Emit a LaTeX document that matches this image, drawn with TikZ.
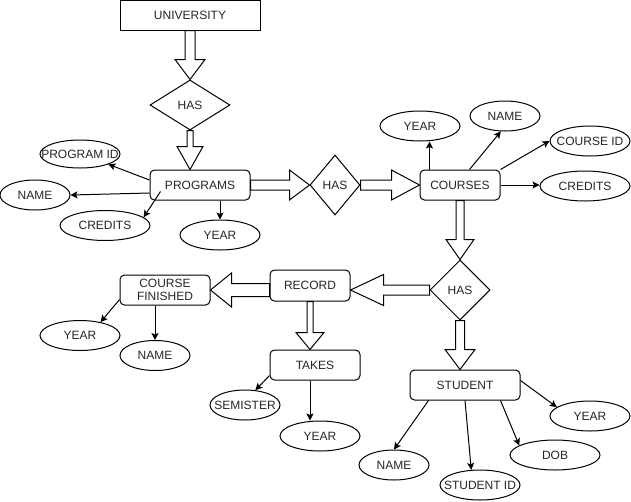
\documentclass[tikz,border=0pt]{standalone}
\usepackage{fontspec}
\setmainfont{Liberation Sans}
\usetikzlibrary{shapes.geometric,arrows.meta,calc}
% block arrow: start, tip, shaft half width, head half width, head length
\newcommand{\blockarr}[5]{%
  \coordinate (bas) at (#1);
  \coordinate (bat) at (#2);
  \coordinate (bah) at ($(bat)!#5!(bas)$);
  \draw[blk] ($(bas)!#3!90:(bat)$) -- ($(bah)!#3!90:(bat)$) -- ($(bah)!#4!90:(bat)$)
    -- (bat) -- ($(bah)!#4!-90:(bat)$) -- ($(bah)!#3!-90:(bat)$) -- ($(bas)!#3!-90:(bat)$) -- cycle;
}
\begin{document}
\begin{tikzpicture}[x=1pt,y=-1pt,
  every node/.style={font=\fontsize{12}{14}\selectfont, text=black!85},
  ent/.style={draw, line width=1pt, rounded corners=4.5pt, fill=white,
    minimum width=#1, minimum height=30pt, inner sep=0pt, align=center},
  attr/.style={draw, ellipse, line width=1pt, fill=white,
    minimum width=#1, minimum height=30pt, inner sep=0pt},
  rel/.style={draw, diamond, line width=1pt, fill=white, inner sep=0pt},
  att/.style={draw, line width=1pt, -{Stealth[length=7pt,width=7pt,inset=1.5pt]}},
  blk/.style={draw, line width=1pt, fill=white, line join=miter}]
\path[fill=white, use as bounding box] (0,0) rectangle (631,501);

% entities
\node[draw, line width=1pt, fill=white, minimum width=140pt, minimum height=30pt, inner sep=0pt] (univ) at (190,15) {UNIVERSITY};
\node[ent=100pt] (prog) at (200,185) {PROGRAMS};
\node[ent=80pt] (courses) at (460,185) {COURSES};
\node[ent=80pt, minimum height=31pt] (record) at (310,285.5) {RECORD};
\node[ent=90pt] (cf) at (165,290) {COURSE\\[-1pt]FINISHED};
\node[ent=90pt] (takes) at (315,365) {TAKES};
\node[ent=110pt] (student) at (465,385) {STUDENT};

% relationships
\node[rel, minimum width=80pt, minimum height=50pt] (has1) at (190,105) {HAS};
\node[rel, minimum width=50pt, minimum height=60pt] (has2) at (335,185) {HAS};
\node[rel, minimum width=60pt, minimum height=60pt] (has3) at (460,290) {HAS};

% attributes
\node[attr=80pt, minimum height=28pt, label=center:{PROGRAM ID}] (pid) at (80,154) {};
\node[attr=70pt, label=center:{NAME}] (pname) at (35,195) {};
\node[attr=90pt, label=center:{CREDITS}] (pcred) at (105,225.5) {};
\node[attr=80pt, label=center:{YEAR}] (pyear) at (220,235) {};
\node[attr=80pt, label=center:{YEAR}] (cyear) at (420,126) {};
\node[attr=70pt, label=center:{NAME}] (cname) at (505,116) {};
\node[attr=80pt, label=center:{COURSE ID}] (cid) at (590,141) {};
\node[attr=90pt, label=center:{CREDITS}] (ccred) at (585,186) {};
\node[attr=80pt, label=center:{YEAR}] (fyear) at (80,335.5) {};
\node[attr=70pt, label=center:{NAME}] (fname) at (155,355.5) {};
\node[attr=70pt, label=center:{SEMISTER}] (sem) at (245,405) {};
\node[attr=80pt, label=center:{YEAR}] (tyear) at (320,436) {};
\node[attr=70pt, label=center:{NAME}] (sname) at (394,465) {};
\node[attr=80pt, label=center:{STUDENT ID}] (sid) at (480,485) {};
\node[attr=90pt, label=center:{DOB}] (dob) at (555,455) {};
\node[attr=80pt, label=center:{YEAR}] (syear) at (590,416) {};

% block arrows
\blockarr{univ.south}{has1.north}{5pt}{15pt}{20pt}
\blockarr{has1.south}{has1.south |- prog.north}{3pt}{13pt}{23pt}
\blockarr{prog.east}{has2.west}{5pt}{15pt}{20pt}
\blockarr{has2.east}{courses.west}{5pt}{15pt}{28pt}
\blockarr{courses.south}{has3.north}{4pt}{14pt}{20pt}
\blockarr{has3.west}{record.east |- has3.west}{5pt}{15.5pt}{33pt}
\blockarr{has3.south}{has3.south |- student.north}{4.5pt}{15pt}{20pt}
\blockarr{record.west |- cf.east}{cf.east}{6.5pt}{17pt}{21pt}
\blockarr{record.south}{record.south |- takes.north}{3pt}{14pt}{17pt}

% connector start points
\coordinate (cy) at ($(courses.north west)+(10,0)$);
\coordinate (ty) at ($(takes.south)+(-5,0)$);

% attribute connectors
\draw[att] ($(prog.west)+(0,-5)$) -- (pid.-20);
\draw[att] ($(prog.west)+(0,8)$) -- (pname.east);
\draw[att] ($(prog.south west)+(11,-9)$) -- (pcred.12);
\draw[att] (pyear.north |- prog.south) -- (pyear.north);

\draw[att] (cy) -- (cy |- cyear.south);
\draw[att] ($(courses.north west)+(50,0)$) -- (cname.-105);
\draw[att] (courses.north east) -- (cid.west);
\draw[att] (courses.east) -- (courses.east -| ccred.west);

\draw[att] ($(cf.south west)+(0,-6)$) -- (fyear.33);
\draw[att] (fname.north |- cf.south) -- (fname.north);

\draw[att] ($(takes.south west)+(0,-5)$) -- (sem.55);
\draw[att] (ty) -- (ty |- tyear.north);

\draw[att] ($(student.south west)+(19,0)$) -- (sname.north);
\draw[att] (student.south) -- (sid.120);
\draw[att] ($(student.south west)+(91,0)$) -- (dob.165);
\draw[att] ($(student.north east)+(0,11)$) -- (syear.165);
\end{tikzpicture}
\end{document}
